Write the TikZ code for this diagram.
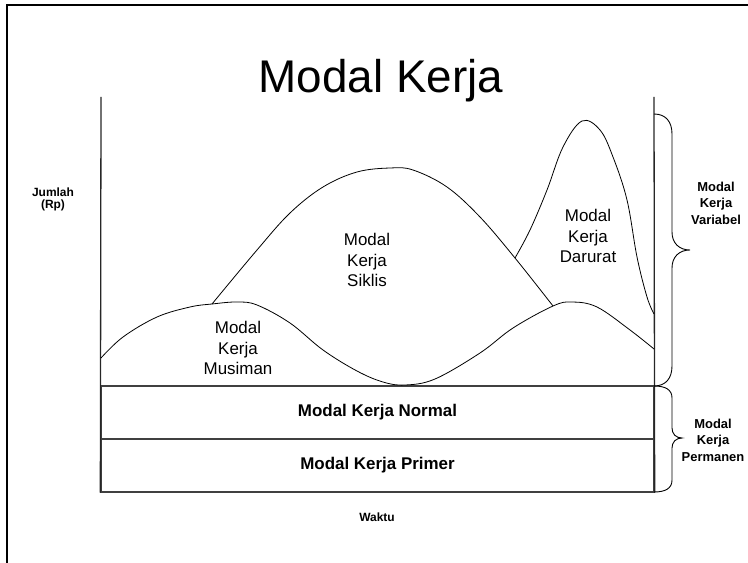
\documentclass[tikz,border=0pt]{standalone}
\usepackage{fontspec}
\setmainfont{Liberation Sans}
\usetikzlibrary{positioning}
\definecolor{modalLine}{HTML}{404040}
\tikzset{
    mtitle/.style={font=\fontsize{46}{50}\selectfont, anchor=base, inner sep=0pt},
    mlabel/.style={align=center, font=\fontsize{17}{21}\selectfont, inner sep=0pt},
    mband/.style={draw=modalLine, line width=1.3bp, minimum width=553bp, minimum height=53bp, font=\bfseries\fontsize{17}{20}\selectfont, inner sep=0pt},
    mside/.style={align=center, font=\bfseries\fontsize{13}{16.5}\selectfont, inner sep=0pt},
    mcurve/.style={line width=0.8bp, smooth, tension=0.6},
    maxis/.style={line width=1.3bp, black!85},
    mbrace/.style={line width=0.9bp}
}

\begin{document}
\begin{tikzpicture}[x=1bp, y=-1bp]
    \useasboundingbox (0,0) rectangle (748,563);
    % frame
    \draw[line width=2.4bp] (7,563) -- (7,5) -- (748,5);
    \node[mtitle] (judul) at (381,93) {Modal Kerja};
    % bands
    \node[mband] (normal) at (377.5,412.5) {Modal Kerja Normal};
    \node[mband] (primer) at (377.5,465.5) {Modal Kerja Primer};
    \coordinate (ltop) at (101,97);
    \coordinate (rtop) at (654,97);
    \draw[maxis] (ltop) -- (primer.south west);
    \draw[maxis] (rtop) -- (primer.south east);
    % curves
    \draw[mcurve] plot coordinates {(101,358) (123,337) (157,317) (190,307) (212,304) (237,302) (257,305) (290,323) (323,350) (357,371) (383,382) (405,385) (435,379) (480,353) (513,328) (553,306) (572,302) (597,307) (630,330) (654,349)};
    \draw[mcurve] plot coordinates {(212,304) (257,250) (290,213) (323,187) (357,172) (390,168) (413,170) (447,187) (480,217) (515,258) (553,306)};
    \draw[mcurve] plot coordinates {(515,258) (530,230) (547,190) (563,147) (582,121) (600,130) (613,157) (627,200) (637,257) (647,297) (654,314)};
    \node[mlabel] (siklis) at (367,260) {Modal\\Kerja\\Siklis};
    \node[mlabel] (musiman) at (238,348) {Modal\\Kerja\\Musiman};
    \node[mlabel] (darurat) at (588,236) {Modal\\Kerja\\Darurat};
    % braces
    \draw[mbrace] (654,114) .. controls (666,114) and (672,122) .. (672,134) -- (672,232)
        .. controls (672,243) and (679,250) .. (690,250)
        .. controls (679,250) and (672,257) .. (672,268) -- (672,366)
        .. controls (672,378) and (666,386) .. (654,386);
    \draw[mbrace] (654,386) .. controls (666,386) and (672,390) .. (672,398) -- (672,428)
        .. controls (672,434) and (676,438) .. (682,438)
        .. controls (676,438) and (672,442) .. (672,448) -- (672,480)
        .. controls (672,488) and (666,492) .. (654,492);
    \node[mside] (variabel) at (716,203) {Modal\\Kerja\\Variabel};
    \node[mside] (permanen) at (713,440) {Modal\\Kerja\\Permanen};
    \node[mside, font=\bfseries\fontsize{12}{12}\selectfont] (jumlah) at (53,199) {Jumlah\\(Rp)};
    \node[mside, font=\bfseries\fontsize{12}{14}\selectfont] (waktu) at (377,517) {Waktu};
\end{tikzpicture}
\end{document}
